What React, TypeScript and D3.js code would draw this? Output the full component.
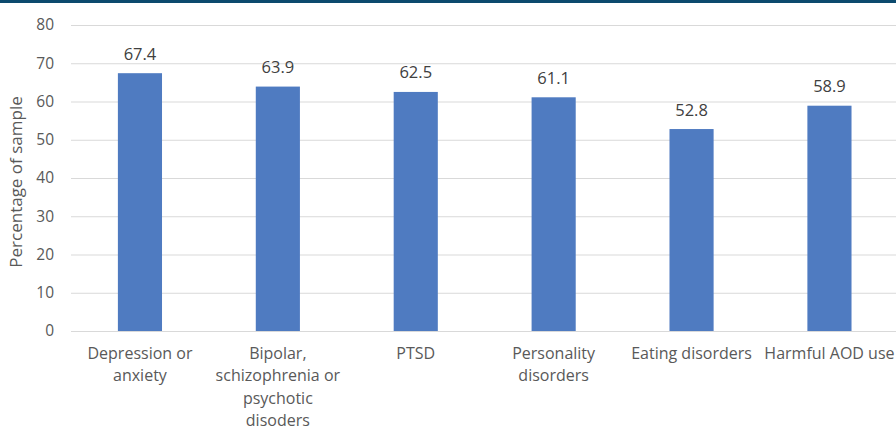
import React from "react";
import * as d3 from "d3";

const categories = [
  "Depression or\nanxiety",
  "Bipolar,\nschizophrenia or\npsychotic\ndisoders",
  "PTSD",
  "Personality\ndisorders",
  "Eating disorders",
  "Harmful AOD use",
];
const values = [67.4, 63.9, 62.5, 61.1, 52.8, 58.9];
const yTicks = [0, 10, 20, 30, 40, 50, 60, 70, 80];

function Chart() {
  const width = 896;
  const height = 436;
  const left = 71;
  const top = 25;
  const bottom = 331;
  const font = "'Open Sans', sans-serif";

  const x = d3
    .scaleBand<string>()
    .domain(categories)
    .range([left, left + 6 * 137.9])
    .paddingInner(0.68)
    .paddingOuter(0.34);

  const y = d3.scaleLinear().domain([0, 80]).range([bottom, top]);

  return (
    <svg width={width} height={height} style={{ position: "absolute", left: 0, top: 0 }}>
      <rect x={0} y={0} width={width} height={height} fill="#fff" />
      <rect x={0} y={0} width={width} height={3} fill="#0c4a6e" />

      {yTicks.map((t) => (
        <g key={t}>
          <line x1={left} x2={width} y1={y(t) + 0.5} y2={y(t) + 0.5} stroke="#d9d9d9" strokeWidth={1} />
          <text
            x={54}
            y={y(t)}
            dy="0.35em"
            textAnchor="end"
            fontFamily={font}
            fontSize={15.5}
            fill="#595959"
          >
            {t}
          </text>
        </g>
      ))}

      {categories.map((c, i) => (
        <g key={c}>
          <rect
            x={x(c)}
            y={y(values[i])}
            width={x.bandwidth()}
            height={y(0) - y(values[i])}
            fill="#4f7bc1"
          />
          <text
            x={(x(c) ?? 0) + x.bandwidth() / 2}
            y={y(values[i]) - 13.5}
            textAnchor="middle"
            fontFamily={font}
            fontSize={16.5}
            fill="#404040"
          >
            {values[i].toFixed(1)}
          </text>
          <text
            textAnchor="middle"
            fontFamily={font}
            fontSize={16}
            fill="#595959"
          >
            {c.split("\n").map((line, j) => (
              <tspan key={j} x={(x(c) ?? 0) + x.bandwidth() / 2} y={358.5 + j * 22.5}>
                {line}
              </tspan>
            ))}
          </text>
        </g>
      ))}

      <text
        transform={`translate(22, ${(top + bottom) / 2 + 4}) rotate(-90)`}
        textAnchor="middle"
        fontFamily={font}
        fontSize={17}
        fill="#595959"
      >
        Percentage of sample
      </text>
    </svg>
  );
}

export default function App() {
  return <Chart />;
}
